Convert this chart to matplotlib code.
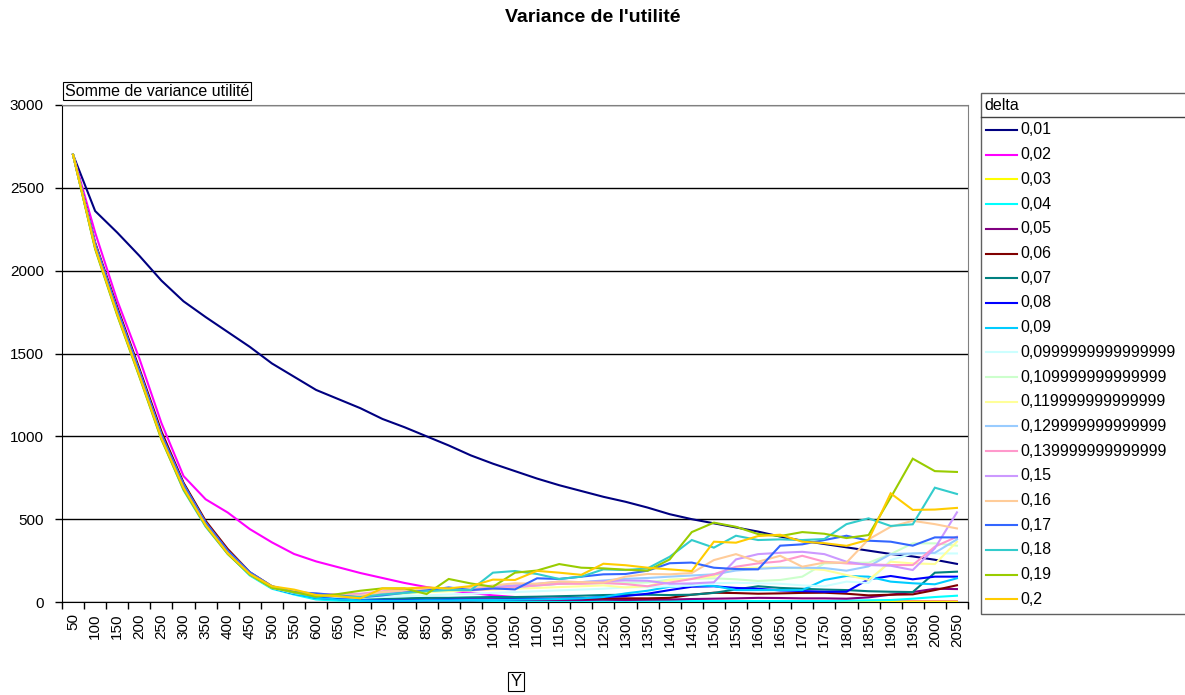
import matplotlib
matplotlib.use('Agg')
import matplotlib.pyplot as plt
from matplotlib.lines import Line2D
from matplotlib.patches import Rectangle

plt.rcParams['font.family'] = ['Liberation Sans', 'DejaVu Sans']

# categories (Y)
years = ['50', '100', '150', '200', '250', '300', '350', '400', '450', '500',
         '550', '600', '650', '700', '750', '800', '850', '900', '950', '1000',
         '1050', '1100', '1150', '1200', '1250', '1300', '1350', '1400', '1450', '1500',
         '1550', '1600', '1650', '1700', '1750', '1800', '1850', '1900', '1950', '2000',
         '2050']

# one list per delta value
d01 = [2700, 2360, 2230, 2090, 1940, 1815, 1720, 1630, 1540, 1440, 1360, 1280, 1225, 1170,
       1105, 1055, 1000, 945, 885, 835, 790, 745, 705, 670, 635, 605, 570, 530, 500, 475,
       450, 425, 395, 370, 350, 330, 310, 290, 275, 255, 230]
d02 = [2700, 2230, 1820, 1470, 1080, 760, 620, 540, 440, 360, 290, 245, 210, 175, 145, 115,
       90, 70, 55, 40, 30, 22, 16, 12, 10, 10, 8, 8, 8, 6, 6, 5, 5, 5, 5, 5, 5, 5, 5, 5, 5]
d03 = [2700, 2150, 1750, 1380, 1000, 705, 470, 300, 165, 85, 50, 20, 10, 6, 5, 4, 4, 3, 3,
       3, 3, 3, 3, 3, 3, 3, 3, 3, 3, 3, 3, 3, 3, 3, 3, 3, 3, 3, 3, 3, 3]
d04 = [2700, 2140, 1740, 1370, 990, 690, 460, 295, 160, 80, 45, 15, 8, 5, 5, 4, 4, 4, 4, 4,
       5, 5, 5, 5, 5, 5, 5, 5, 6, 6, 6, 6, 6, 6, 6, 8, 10, 12, 20, 30, 38]
d05 = [2700, 2160, 1770, 1400, 1020, 715, 480, 310, 175, 90, 55, 25, 18, 14, 12, 12, 10, 10,
       10, 12, 12, 12, 12, 12, 14, 12, 14, 15, 18, 20, 22, 25, 24, 22, 22, 20, 28, 44, 60,
       80, 78]
d06 = [2700, 2170, 1780, 1410, 1030, 720, 490, 320, 180, 95, 60, 30, 22, 18, 15, 15, 15, 14,
       15, 15, 18, 18, 20, 20, 22, 22, 22, 25, 44, 56, 54, 50, 52, 55, 56, 50, 40, 44, 46,
       72, 101]
d07 = [2700, 2155, 1760, 1390, 1010, 710, 475, 305, 170, 90, 55, 35, 28, 22, 20, 22, 25, 25,
       28, 30, 30, 32, 35, 38, 42, 44, 44, 42, 44, 55, 76, 95, 85, 80, 75, 72, 65, 62, 60,
       177, 183]
d08 = [2700, 2150, 1755, 1385, 1005, 700, 470, 300, 170, 85, 50, 30, 18, 12, 10, 10, 12, 14,
       15, 15, 16, 18, 20, 22, 30, 36, 50, 72, 92, 95, 85, 80, 70, 66, 62, 62, 137, 157, 137,
       153, 153]
d09 = [2700, 2140, 1745, 1375, 995, 690, 465, 295, 165, 85, 50, 25, 15, 10, 8, 8, 10, 10, 12,
       12, 14, 16, 18, 22, 30, 52, 68, 92, 101, 97, 72, 72, 72, 72, 133, 157, 153, 123, 113,
       107, 143]
d10 = [2700, 2150, 1750, 1380, 1000, 700, 470, 300, 170, 90, 55, 40, 30, 25, 30, 35, 40, 45,
       50, 55, 60, 65, 70, 75, 80, 88, 90, 95, 100, 113, 116, 113, 110, 100, 95, 123, 115,
       253, 293, 293, 293]
d11 = [2700, 2145, 1750, 1380, 1000, 700, 470, 300, 165, 85, 55, 45, 35, 35, 40, 50, 60, 70,
       80, 90, 100, 105, 110, 113, 112, 115, 118, 135, 140, 143, 137, 127, 133, 153, 233,
       237, 237, 289, 354, 354, 340]
d12 = [2700, 2150, 1755, 1385, 1000, 700, 475, 305, 170, 90, 60, 50, 40, 35, 45, 55, 60, 65,
       70, 75, 80, 85, 90, 95, 100, 88, 95, 133, 140, 155, 203, 207, 210, 203, 193, 163, 133,
       243, 233, 229, 364]
d13 = [2700, 2155, 1760, 1390, 1005, 705, 475, 305, 170, 90, 60, 45, 40, 45, 60, 65, 70, 75,
       80, 85, 90, 100, 110, 120, 130, 140, 145, 153, 160, 167, 190, 200, 207, 207, 205, 189,
       215, 289, 293, 297, 378]
d14 = [2700, 2150, 1750, 1380, 1000, 700, 470, 300, 170, 90, 60, 50, 45, 50, 65, 75, 80, 75,
       70, 80, 90, 100, 110, 110, 115, 108, 95, 117, 139, 167, 213, 233, 245, 279, 243, 233,
       227, 223, 223, 334, 394]
d15 = [2700, 2145, 1745, 1375, 995, 695, 465, 300, 170, 90, 60, 40, 35, 45, 55, 60, 70, 80,
       85, 92, 100, 110, 123, 120, 125, 130, 128, 110, 112, 119, 257, 289, 297, 303, 289, 243,
       223, 219, 193, 324, 541]
d16 = [2700, 2155, 1755, 1385, 1000, 700, 470, 305, 175, 95, 65, 45, 40, 40, 60, 70, 75, 80,
       85, 100, 113, 110, 123, 120, 117, 153, 169, 167, 175, 253, 289, 243, 279, 213, 238,
       238, 378, 454, 490, 470, 444]
d17 = [2700, 2160, 1765, 1395, 1010, 710, 480, 310, 180, 95, 60, 52, 40, 28, 40, 56, 70, 88,
       72, 82, 76, 143, 139, 153, 167, 169, 189, 234, 238, 207, 199, 197, 340, 348, 374, 400,
       370, 364, 340, 390, 390]
d18 = [2700, 2135, 1735, 1365, 985, 675, 455, 290, 165, 90, 55, 40, 35, 30, 45, 55, 65, 72,
       72, 177, 187, 169, 139, 153, 197, 193, 203, 273, 374, 328, 400, 374, 378, 374, 380,
       470, 505, 459, 469, 690, 652]
d19 = [2700, 2130, 1730, 1360, 980, 680, 460, 290, 165, 85, 60, 32, 48, 68, 82, 82, 48, 139,
       112, 92, 177, 190, 229, 207, 203, 195, 189, 257, 422, 479, 454, 410, 398, 422, 412,
       386, 404, 630, 865, 790, 785]
d20 = [2700, 2140, 1740, 1370, 990, 690, 465, 295, 170, 95, 75, 42, 35, 22, 82, 82, 88, 82,
       96, 135, 133, 188, 177, 164, 231, 222, 207, 197, 187, 364, 358, 398, 406, 364, 355,
       339, 376, 656, 556, 558, 568]

deltas = ['0,01', '0,02', '0,03', '0,04', '0,05', '0,06', '0,07', '0,08', '0,09',
          '0,0999999999999999', '0,109999999999999', '0,119999999999999',
          '0,129999999999999', '0,139999999999999', '0,15', '0,16', '0,17', '0,18',
          '0,19', '0,2']
series = [d01, d02, d03, d04, d05, d06, d07, d08, d09, d10,
          d11, d12, d13, d14, d15, d16, d17, d18, d19, d20]
colors = ['#000080', '#FF00FF', '#FFFF00', '#00FFFF', '#800080', '#800000', '#008080',
          '#0000FF', '#00CCFF', '#CCFFFF', '#CCFFCC', '#FFFF99', '#99CCFF', '#FF99CC',
          '#CC99FF', '#FFCC99', '#3366FF', '#33CCCC', '#99CC00', '#FFCC00']

W, H = 1185, 695
fig = plt.figure(figsize=(W / 100, H / 100), dpi=100)
ax = fig.add_axes([62 / W, 93 / H, 906 / W, 497 / H])

x = list(range(len(years)))
for vals, col in zip(series, colors):
    ax.plot(x, vals, color=col, lw=1.5, solid_joinstyle='miter')

ax.set_xlim(-0.5, len(years) - 0.5)
ax.set_ylim(0, 3000)
ax.set_yticks(range(0, 3001, 500))
ax.yaxis.grid(True, color='black', lw=1)
ax.set_axisbelow(True)

ax.set_xticks(x)
ax.set_xticklabels(years, rotation=90, va='top', ha='center')
ax.set_xticks([i - 0.5 for i in range(len(years) + 1)], minor=True)
ax.tick_params(axis='x', which='major', length=0, pad=8, labelsize=11)
ax.tick_params(axis='x', which='minor', length=5, width=1, color='black')
ax.tick_params(axis='y', length=5, width=1, pad=8, labelsize=11)

for s in ['left', 'bottom']:
    ax.spines[s].set_color('black')
for s in ['right', 'top']:
    ax.spines[s].set_color('#808080')

# titles and field buttons
fig.text(0.5, 1 - 18 / H, "Variance de l'utilité", ha='center', va='center',
         fontsize=14, fontweight='bold')
fig.text(65 / W, 1 - 91 / H, 'Somme de variance utilité', ha='left', va='center',
         fontsize=11.5, bbox=dict(facecolor='white', edgecolor='black', lw=0.8, pad=1.2))
fig.text(516 / W, 1 - 681 / H, 'Y', ha='center', va='center', fontsize=12,
         bbox=dict(facecolor='white', edgecolor='black', lw=0.8, pad=1.5))

# legend drawn as a pivot field list
fig.add_artist(Rectangle((981 / W, 1 - 614 / H), 215 / W, 521 / H, transform=fig.transFigure,
                         facecolor='white', edgecolor='#606060', lw=1))
fig.add_artist(Line2D([981 / W, 1.0], [1 - 117 / H, 1 - 117 / H], transform=fig.transFigure,
                      color='#404040', lw=1))
fig.text(984 / W, 1 - 105 / H, 'delta', ha='left', va='center', fontsize=11.5)
for i, (lab, col) in enumerate(zip(deltas, colors)):
    yy = 1 - (130 + 24.7 * i) / H
    fig.add_artist(Line2D([986 / W, 1017 / W], [yy, yy], transform=fig.transFigure,
                          color=col, lw=1.5))
    fig.text(1020 / W, yy, lab, ha='left', va='center', fontsize=11.5)

fig.savefig('out.png', dpi=100)
